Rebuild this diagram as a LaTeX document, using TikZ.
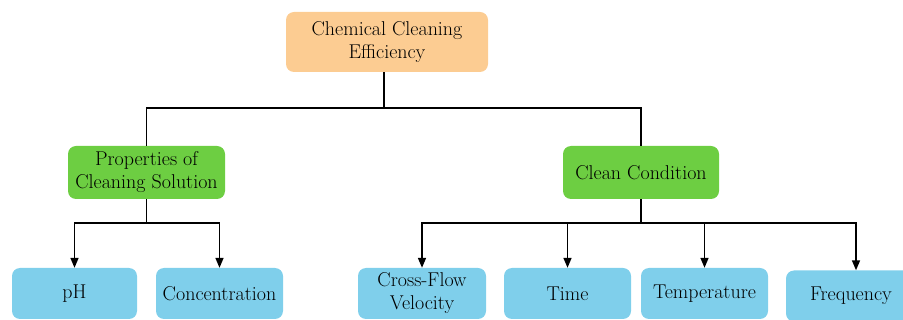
\documentclass[tikz,border=0pt]{standalone}
\usetikzlibrary{arrows.meta}

\definecolor{topfill}{RGB}{252,204,146}
\definecolor{midfill}{RGB}{109,206,66}
\definecolor{leaffill}{RGB}{127,207,235}

\tikzset{
    box/.style={rounded corners=8pt, align=center, inner sep=0pt,
        font=\fontsize{20}{23}\selectfont},
    topbox/.style={box, fill=topfill, minimum width=202pt, minimum height=60pt},
    midbox/.style={box, fill=midfill, minimum width=157pt, minimum height=53pt},
    leafbox/.style={box, fill=leaffill, minimum width=127pt, minimum height=51pt},
    link/.style={line width=1.6pt},
    arrowlink/.style={link, -{Triangle[width=8pt,length=10pt]}}
}

\begin{document}
\begin{tikzpicture}[x=1pt, y=-1pt]
    \useasboundingbox (0,0) rectangle (903,320);

    \node[topbox] (efficiency) at (387,42) {Chemical Cleaning\\Efficiency};

    \node[midbox] (solution) at (146.5,172.5) {Properties of\\Cleaning Solution};
    \node[midbox, minimum width=156pt] (condition) at (641,172.5) {Clean Condition};

    \node[leafbox, minimum width=125pt] (ph) at (74.5,293.5) {pH};
    \node[leafbox] (concentration) at (219.5,293.5) {Concentration};
    \node[leafbox, minimum width=128pt] (velocity) at (422,293.5) {Cross-Flow\\Velocity};
    \node[leafbox] (time) at (567.5,293.5) {Time};
    \node[leafbox] (temperature) at (704.5,293.5) {Temperature};
    \node[leafbox, minimum width=130pt] (frequency) at (851,296) {Frequency};

    \coordinate (split) at (384,108);
    \coordinate (solsplit) at (146.5,223);
    \coordinate (consplit) at (641,223);

    \draw[link] (split |- efficiency.south) -- (split);
    \draw[link] (split) -| (solution.north);
    \draw[link] (split) -| (condition.north);

    \draw[link] (solution.south) -- (solsplit);
    \draw[arrowlink] (solsplit) -| (ph.north);
    \draw[arrowlink] (solsplit) -| (concentration.north);

    \draw[link] (condition.south) -- (consplit);
    \draw[arrowlink] (consplit) -| (velocity.north);
    \draw[arrowlink] (consplit) -| (time.north);
    \draw[arrowlink] (consplit) -| (temperature.north);
    \draw[arrowlink] (consplit) -| ([xshift=5pt]frequency.north);
\end{tikzpicture}
\end{document}
